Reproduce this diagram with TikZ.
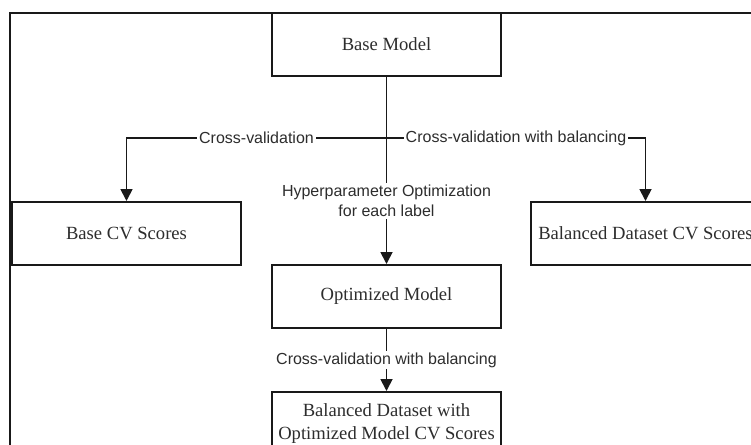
\documentclass[tikz,border=0pt]{standalone}
\usepackage{fontspec}
\setmainfont{Liberation Serif}
\setsansfont{Liberation Sans}
\usepackage{xcolor}
\usepackage{tikz}
\usetikzlibrary{arrows.meta,positioning}
\definecolor{corlinha}{RGB}{25,25,25}
\definecolor{cortexto}{RGB}{45,45,45}

\begin{document}
\begin{tikzpicture}[
  x=0.5pt, y=-0.5pt,
  caixa/.style={rectangle, draw=corlinha, line width=1pt, fill=white,
                minimum width=114.5pt, minimum height=31.5pt,
                align=center, text=cortexto, font=\fontsize{9.3}{11.5}\selectfont},
  rotulo/.style={fill=white, inner sep=1pt, align=center, text=cortexto,
                 font=\sffamily\fontsize{8}{10}\selectfont},
  seta/.style={-{Triangle[length=6pt,width=6pt]}, line width=0.9pt, color=corlinha},
  moldura/.style={draw=corlinha, line width=1.3pt}
]
  \useasboundingbox (0,0) rectangle (751,445);
  \clip (0,0) rectangle (751,445);
  \draw[moldura] (10,13) rectangle (780,480);

  \node[caixa] (base) at (386.5,44.5) {Base Model};
  \node[caixa, below left=62pt and 14.5pt of base] (basecv) {Base CV Scores};
  \node[caixa, below right=62pt and 14pt of base] (balcv) {Balanced Dataset CV Scores};
  \node[caixa, below=93.5pt of base] (opt) {Optimized Model};
  \node[caixa, below=31pt of opt] (final) {Balanced Dataset with\\ Optimized Model CV Scores};
  \coordinate (juncao) at (base.south |- 0,138);

  \draw[line width=0.9pt, color=corlinha] (base.south) -- (juncao);
  \draw[seta] (juncao) -| node[rotulo, pos=0.25]{Cross-validation} (basecv.north);
  \draw[seta] (juncao) -| node[rotulo, pos=0.25]{Cross-validation with balancing} (balcv.north);
  \draw[seta] (juncao) -- node[rotulo]{Hyperparameter Optimization\\ for each label} (opt.north);
  \draw[seta] (opt) -- node[rotulo]{Cross-validation with balancing} (final);
\end{tikzpicture}
\end{document}
